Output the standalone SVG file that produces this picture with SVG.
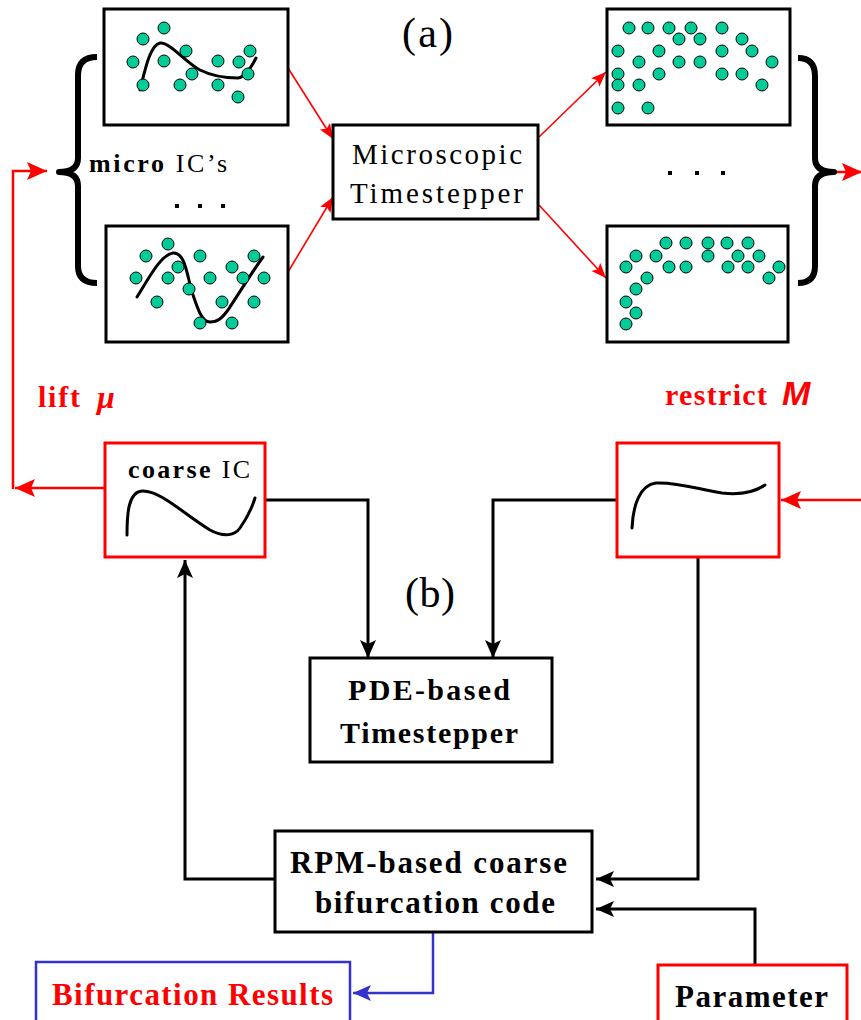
<svg xmlns="http://www.w3.org/2000/svg" width="861" height="1020" viewBox="0 0 861 1020">
<defs>
<style>
.box{fill:#fff;stroke:#000;stroke-width:3}
.rbox{fill:#fff;stroke:#f00;stroke-width:3}
.bbox{fill:#fff;stroke:#3333cc;stroke-width:2.5}
.dot{fill:#00cc99;stroke:#000;stroke-width:1}
.curve{fill:none;stroke:#000;stroke-width:3;stroke-linecap:round;stroke-linejoin:round}
.brace{fill:none;stroke:#000;stroke-width:6;stroke-linejoin:round}
.kline{fill:none;stroke:#000;stroke-width:3}
.rline{fill:none;stroke:#f00;stroke-width:2.5}
.rthin{fill:none;stroke:#f00;stroke-width:1.6}
.bline{fill:none;stroke:#3333cc;stroke-width:2.5}
.serif{font-family:"Liberation Serif","Times New Roman",serif}
.b{font-weight:bold}
.red{fill:#f00}
</style>
<marker id="ak" markerUnits="userSpaceOnUse" markerWidth="20" markerHeight="18" refX="18" refY="8" orient="auto"><path d="M0,0 L18,8 L0,16 L4,8 z" fill="#000"/></marker>
<marker id="ar" markerUnits="userSpaceOnUse" markerWidth="22" markerHeight="20" refX="20" refY="9" orient="auto"><path d="M0,0 L20,9 L0,18 L4,9 z" fill="#f00"/></marker>
<marker id="ars" markerUnits="userSpaceOnUse" markerWidth="16" markerHeight="14" refX="15" refY="6" orient="auto"><path d="M0,0 L15,6 L0,12 L3,6 z" fill="#f00"/></marker>
<marker id="ab" markerUnits="userSpaceOnUse" markerWidth="20" markerHeight="18" refX="18" refY="8" orient="auto"><path d="M0,0 L18,8 L0,16 L4,8 z" fill="#3333cc"/></marker>
</defs>
<rect width="861" height="1020" fill="#fff"/>

<g id="connectors">
<line class="rthin" x1="288" y1="68" x2="333" y2="139" marker-end="url(#ars)"/>
<line class="rthin" x1="288" y1="272" x2="333" y2="197" marker-end="url(#ars)"/>
<line class="rthin" x1="539" y1="137" x2="606" y2="72" marker-end="url(#ars)"/>
<line class="rthin" x1="539" y1="205" x2="606" y2="278" marker-end="url(#ars)"/>
<line class="rline" x1="833" y1="172" x2="862" y2="172" marker-end="url(#ar)"/>
<line class="rline" x1="105" y1="488" x2="15" y2="488" marker-end="url(#ar)"/>
<polyline class="rline" points="13,489 13,171 47,171" marker-end="url(#ar)"/>
<line class="rline" x1="861" y1="500" x2="781" y2="500" marker-end="url(#ar)"/>
<polyline class="kline" points="265,500 368,500 368,658" marker-end="url(#ak)"/>
<polyline class="kline" points="617,500 493,500 493,658" marker-end="url(#ak)"/>
<polyline class="kline" points="698,557 698,879 596,879" marker-end="url(#ak)"/>
<polyline class="kline" points="755,965 755,909 596,909" marker-end="url(#ak)"/>
<polyline class="kline" points="275,879 185,879 185,560" marker-end="url(#ak)"/>
<polyline class="bline" points="433,932 433,993 353,993" marker-end="url(#ab)"/>
</g>

<g id="brace-left"><path class="brace" d="M97,57 Q78,57 78,75 L78,158 Q78,172 59,172 Q78,172 78,186 L78,266 Q78,283 97,283"/></g>
<g id="brace-right"><path class="brace" d="M798,58 Q815,58 815,76 L815,158 Q815,172 834,172 Q815,172 815,186 L815,266 Q815,283 798,283"/></g>

<g id="micro-ic-1">
<rect class="box" x="104" y="9" width="184" height="116"/>
<path class="curve" d="M140,90 C145,70 150,45 160,43 C170,42 185,62 200,70 C212,76 225,78 238,78 C246,77 252,66 256,58"/>
<circle class="dot" cx="164" cy="28" r="6"/><circle class="dot" cx="143" cy="39" r="6"/><circle class="dot" cx="186" cy="51" r="6"/><circle class="dot" cx="250" cy="51" r="6"/>
<circle class="dot" cx="133" cy="62" r="6"/><circle class="dot" cx="164" cy="61" r="6"/><circle class="dot" cx="218" cy="61" r="6"/><circle class="dot" cx="239" cy="62" r="6"/>
<circle class="dot" cx="192" cy="74" r="6"/><circle class="dot" cx="248" cy="74" r="6"/><circle class="dot" cx="143" cy="85" r="6"/><circle class="dot" cx="180" cy="85" r="6"/>
<circle class="dot" cx="218" cy="85" r="6"/><circle class="dot" cx="238" cy="97" r="6"/>
</g>

<g id="micro-ic-label">
<text class="serif" x="89" y="172" font-size="26" textLength="138" lengthAdjust="spacing"><tspan font-weight="bold">micro</tspan> IC’s</text>
<g fill="#000"><rect x="175" y="204" width="4" height="4"/><rect x="198" y="204" width="4" height="4"/><rect x="221" y="204" width="4" height="4"/></g>
</g>

<g id="micro-ic-2">
<rect class="box" x="106" y="226" width="182" height="116"/>
<path class="curve" d="M137,297 C148,280 160,255 173,253 C185,252 187,275 192,292 C198,310 202,322 210,322 C218,322 222,318 228,310 C240,292 252,272 263,257"/>
<circle class="dot" cx="168" cy="244" r="6"/><circle class="dot" cx="146" cy="256" r="6"/><circle class="dot" cx="200" cy="256" r="6"/><circle class="dot" cx="254" cy="256" r="6"/>
<circle class="dot" cx="178" cy="267" r="6"/><circle class="dot" cx="232" cy="267" r="6"/><circle class="dot" cx="136" cy="278" r="6"/><circle class="dot" cx="168" cy="278" r="6"/>
<circle class="dot" cx="210" cy="278" r="6"/><circle class="dot" cx="243" cy="278" r="6"/><circle class="dot" cx="264" cy="278" r="6"/><circle class="dot" cx="189" cy="289" r="6"/>
<circle class="dot" cx="157" cy="302" r="6"/><circle class="dot" cx="222" cy="302" r="6"/><circle class="dot" cx="254" cy="302" r="6"/><circle class="dot" cx="200" cy="323" r="6"/>
<circle class="dot" cx="232" cy="323" r="6"/>
</g>

<g id="label-a"><text class="serif" x="402" y="47" font-size="42" textLength="51" lengthAdjust="spacing">(a)</text></g>

<g id="microscopic-timestepper">
<rect class="box" x="333" y="125" width="205" height="94"/>
<text class="serif" x="352" y="164" font-size="29" textLength="170" lengthAdjust="spacing">Microscopic</text>
<text class="serif" x="350" y="203" font-size="29" textLength="173" lengthAdjust="spacing">Timestepper</text>
</g>

<g id="micro-out-1">
<rect class="box" x="607" y="9" width="183" height="116"/>
<circle class="dot" cx="629" cy="28" r="6"/><circle class="dot" cx="648" cy="28" r="6"/><circle class="dot" cx="669" cy="28" r="6"/><circle class="dot" cx="691" cy="28" r="6"/>
<circle class="dot" cx="722" cy="28" r="6"/><circle class="dot" cx="679" cy="39" r="6"/><circle class="dot" cx="700" cy="39" r="6"/><circle class="dot" cx="742" cy="39" r="6"/>
<circle class="dot" cx="618" cy="51" r="6"/><circle class="dot" cx="659" cy="51" r="6"/><circle class="dot" cx="722" cy="51" r="6"/><circle class="dot" cx="752" cy="51" r="6"/>
<circle class="dot" cx="639" cy="62" r="6"/><circle class="dot" cx="679" cy="62" r="6"/><circle class="dot" cx="700" cy="62" r="6"/><circle class="dot" cx="772" cy="62" r="6"/>
<circle class="dot" cx="618" cy="74" r="6"/><circle class="dot" cx="659" cy="74" r="6"/><circle class="dot" cx="722" cy="74" r="6"/><circle class="dot" cx="742" cy="74" r="6"/>
<circle class="dot" cx="618" cy="85" r="6"/><circle class="dot" cx="639" cy="85" r="6"/><circle class="dot" cx="762" cy="85" r="6"/><circle class="dot" cx="618" cy="108" r="6"/>
<circle class="dot" cx="648" cy="108" r="6"/>
</g>

<g id="micro-out-dots" fill="#000"><rect x="668" y="171" width="4" height="4"/><rect x="695" y="171" width="4" height="4"/><rect x="721" y="171" width="4" height="4"/></g>

<g id="micro-out-2">
<rect class="box" x="607" y="226" width="181" height="116"/>
<circle class="dot" cx="666" cy="243" r="6"/><circle class="dot" cx="686" cy="243" r="6"/><circle class="dot" cx="708" cy="243" r="6"/><circle class="dot" cx="727" cy="243" r="6"/>
<circle class="dot" cx="748" cy="243" r="6"/><circle class="dot" cx="636" cy="256" r="6"/><circle class="dot" cx="656" cy="256" r="6"/><circle class="dot" cx="708" cy="256" r="6"/>
<circle class="dot" cx="738" cy="256" r="6"/><circle class="dot" cx="759" cy="256" r="6"/><circle class="dot" cx="626" cy="267" r="6"/><circle class="dot" cx="669" cy="267" r="6"/>
<circle class="dot" cx="686" cy="267" r="6"/><circle class="dot" cx="728" cy="267" r="6"/><circle class="dot" cx="748" cy="267" r="6"/><circle class="dot" cx="779" cy="267" r="6"/>
<circle class="dot" cx="647" cy="278" r="6"/><circle class="dot" cx="769" cy="278" r="6"/><circle class="dot" cx="636" cy="289" r="6"/><circle class="dot" cx="626" cy="302" r="6"/>
<circle class="dot" cx="636" cy="313" r="6"/><circle class="dot" cx="626" cy="324" r="6"/>
</g>

<g id="lift-label">
<text class="serif b red" x="38" y="407" font-size="30" textLength="42" lengthAdjust="spacing">lift</text>
<text class="serif b red" x="97" y="408" font-size="32" font-style="italic">μ</text>
</g>

<g id="restrict-label">
<text class="serif b red" x="665" y="405" font-size="30" textLength="102" lengthAdjust="spacing">restrict</text>
<text class="red" x="782" y="405" font-size="34" font-weight="bold" font-style="italic" font-family="Liberation Sans, Arial, sans-serif">M</text>
</g>

<g id="coarse-ic">
<rect class="rbox" x="105" y="443" width="160" height="114" stroke-width="2.5"/>
<text class="serif" x="128" y="478" font-size="26" textLength="122" lengthAdjust="spacing"><tspan font-weight="bold">coarse</tspan> IC</text>
<path class="curve" d="M127,535 C127,515 128,492 142,491 C160,490 185,515 210,530 C225,538 235,535 240,528 C247,518 252,508 255,498"/>
</g>

<g id="restricted">
<rect class="rbox" x="617" y="443" width="162" height="114" stroke-width="2.5"/>
<path class="curve" d="M632,528 C633,505 640,485 656,483 C680,482 700,490 722,493 C740,495 755,492 765,485"/>
</g>

<g id="label-b"><text class="serif" x="405" y="607" font-size="42" textLength="50" lengthAdjust="spacing">(b)</text></g>

<g id="pde-timestepper">
<rect class="box" x="310" y="658" width="242" height="104"/>
<text class="serif b" x="348" y="700" font-size="30" textLength="162" lengthAdjust="spacing">PDE-based</text>
<text class="serif b" x="340" y="743" font-size="30" textLength="178" lengthAdjust="spacing">Timestepper</text>
</g>

<g id="rpm-code">
<rect class="box" x="275" y="831" width="317" height="101"/>
<text class="serif b" x="290" y="873" font-size="31" textLength="277" lengthAdjust="spacing">RPM-based coarse</text>
<text class="serif b" x="315" y="913" font-size="31" textLength="240" lengthAdjust="spacing">bifurcation code</text>
</g>

<g id="bifurcation-results">
<rect class="bbox" x="36" y="962" width="314" height="70"/>
<text class="serif b red" x="52" y="1005" font-size="31" textLength="281" lengthAdjust="spacing">Bifurcation Results</text>
</g>

<g id="parameter">
<rect class="rbox" x="658" y="965" width="189" height="70"/>
<text class="serif b" x="675" y="1007" font-size="31" textLength="153" lengthAdjust="spacing">Parameter</text>
</g>
</svg>
